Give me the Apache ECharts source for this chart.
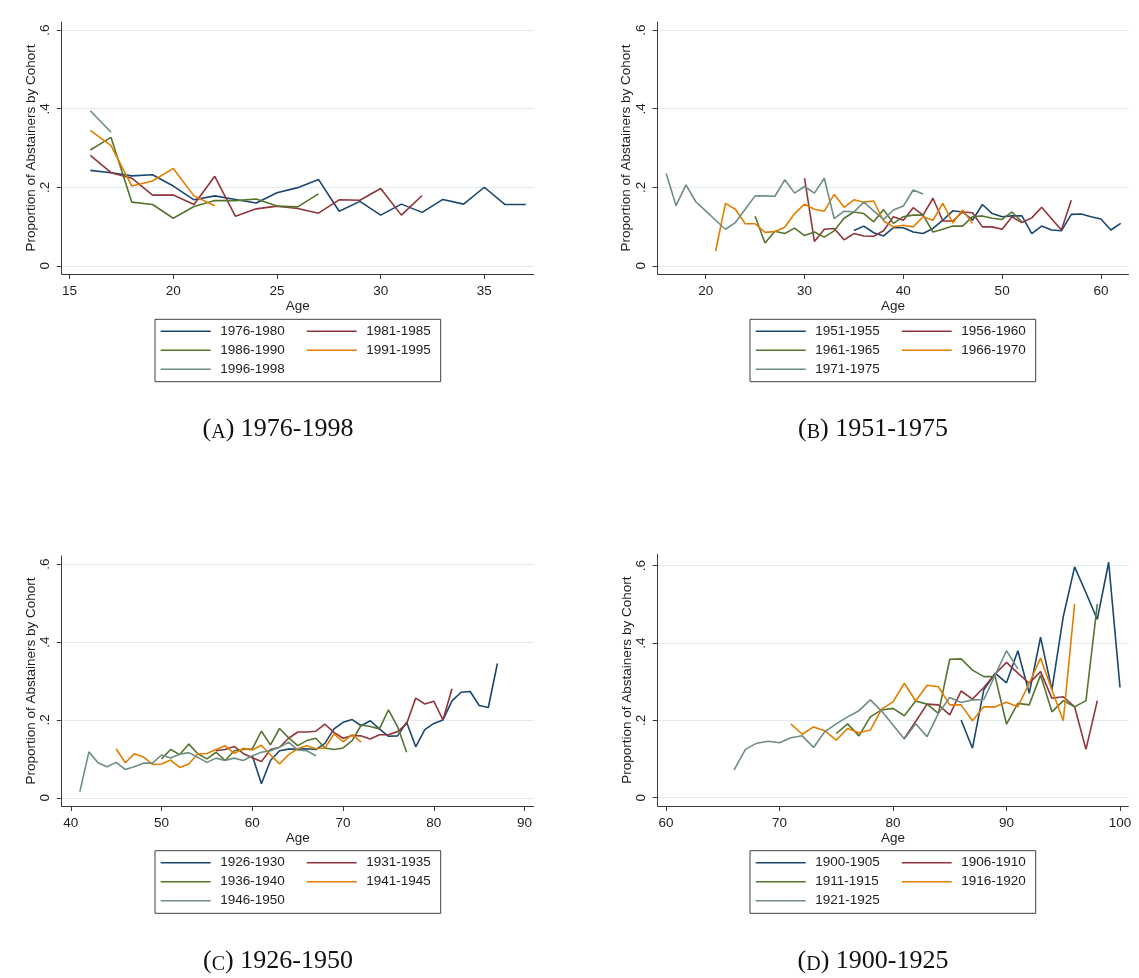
<!DOCTYPE html>
<html>
<head>
<meta charset="utf-8">
<style>
  html, body { margin: 0; padding: 0; background: #ffffff; }
  #chart { width: 1139px; height: 978px; }
</style>
<script src="https://cdn.jsdelivr.net/npm/echarts@6/dist/echarts.min.js"></script>
</head>
<body>
<div id="chart"></div>
<script>
// ---------------- DATA ----------------
// Panel A: cohorts 1976-1998 (values start at the given age, one value per year of age)
const A_NAMES = ['1976-1980', '1981-1985', '1986-1990', '1991-1995', '1996-1998'];
const A_START = [16, 16, 16, 16, 16];
const A_1976_1980 = [0.243,0.237,0.229,0.232,0.203,0.168,0.178,0.169,0.160,0.186,0.199,0.220,0.139,0.164,0.129,0.157,0.136,0.169,0.157,0.200,0.156,0.156];
const A_1981_1985 = [0.281,0.237,0.223,0.180,0.180,0.156,0.228,0.126,0.145,0.152,0.146,0.134,0.168,0.167,0.197,0.129,0.179];
const A_1986_1990 = [0.295,0.327,0.162,0.156,0.121,0.151,0.166,0.166,0.170,0.152,0.150,0.183];
const A_1991_1995 = [0.345,0.306,0.203,0.216,0.248,0.178,0.153];
const A_1996_1998 = [0.395,0.340];
const A_XTICKS = [15, 20, 25, 30, 35];

// Panel B: cohorts 1951-1975
const B_NAMES = ['1951-1955', '1956-1960', '1961-1965', '1966-1970', '1971-1975'];
const B_START = [35, 30, 25, 21, 16];
const B_1951_1955 = [0.090,0.101,0.084,0.076,0.097,0.097,0.086,0.082,0.095,0.116,0.140,0.137,0.116,0.156,0.133,0.125,0.127,0.127,0.082,0.101,0.091,0.089,0.131,0.132,0.125,0.119,0.091,0.108];
const B_1956_1960 = [0.223,0.062,0.093,0.095,0.066,0.082,0.076,0.075,0.089,0.125,0.116,0.148,0.129,0.172,0.114,0.114,0.137,0.135,0.099,0.099,0.093,0.125,0.110,0.122,0.149,0.120,0.091,0.167];
const B_1961_1965 = [0.126,0.058,0.088,0.082,0.096,0.077,0.086,0.073,0.089,0.121,0.137,0.133,0.112,0.143,0.108,0.125,0.129,0.129,0.086,0.093,0.101,0.101,0.125,0.127,0.121,0.118,0.137,0.112];
const B_1966_1970 = [0.037,0.159,0.144,0.107,0.107,0.085,0.087,0.098,0.133,0.157,0.144,0.139,0.182,0.149,0.168,0.162,0.165,0.114,0.099,0.103,0.099,0.125,0.116,0.159,0.109,0.142,0.108];
const B_1971_1975 = [0.235,0.153,0.206,0.163,0.140,0.116,0.093,0.110,0.144,0.178,0.178,0.177,0.219,0.185,0.202,0.185,0.223,0.120,0.139,0.137,0.162,0.140,0.118,0.142,0.152,0.193,0.183];
const B_XTICKS = [20, 30, 40, 50, 60];

// Panel C: cohorts 1926-1950
const C_NAMES = ['1926-1930', '1931-1935', '1936-1940', '1941-1945', '1946-1950'];
const C_START = [60, 56, 50, 45, 41];
const C_1926_1930 = [0.108,0.036,0.096,0.121,0.125,0.125,0.126,0.124,0.140,0.177,0.194,0.201,0.185,0.198,0.177,0.158,0.159,0.194,0.131,0.175,0.191,0.200,0.249,0.271,0.273,0.237,0.232,0.345];
const C_1931_1935 = [0.121,0.124,0.132,0.114,0.103,0.093,0.124,0.130,0.153,0.169,0.169,0.171,0.189,0.168,0.153,0.160,0.159,0.151,0.162,0.162,0.170,0.190,0.256,0.241,0.248,0.200,0.280];
const C_1936_1940 = [0.100,0.124,0.111,0.138,0.113,0.100,0.117,0.096,0.121,0.124,0.126,0.171,0.136,0.178,0.154,0.134,0.147,0.153,0.128,0.124,0.128,0.147,0.187,0.183,0.177,0.226,0.183,0.117];
const C_1941_1945 = [0.126,0.090,0.113,0.105,0.086,0.087,0.097,0.078,0.087,0.113,0.114,0.124,0.134,0.114,0.127,0.123,0.135,0.110,0.087,0.111,0.126,0.134,0.126,0.128,0.164,0.144,0.162,0.143];
const C_1946_1950 = [0.016,0.118,0.090,0.080,0.091,0.073,0.080,0.089,0.089,0.110,0.102,0.112,0.116,0.104,0.091,0.102,0.096,0.102,0.096,0.108,0.117,0.121,0.130,0.143,0.123,0.121,0.108];
const C_XTICKS = [40, 50, 60, 70, 80, 90];

// Panel D: cohorts 1900-1925
const D_NAMES = ['1900-1905', '1906-1910', '1911-1915', '1916-1920', '1921-1925'];
const D_START = [86, 81, 75, 71, 66];
const D_1900_1905 = [0.201,0.128,0.279,0.322,0.297,0.380,0.270,0.415,0.279,0.468,0.597,0.530,0.461,0.609,0.285];
const D_1906_1910 = [0.154,0.197,0.242,0.240,0.214,0.276,0.255,0.285,0.320,0.350,0.322,0.296,0.326,0.257,0.261,0.235,0.125,0.251];
const D_1911_1915 = [0.166,0.191,0.160,0.209,0.227,0.231,0.212,0.250,0.242,0.218,0.358,0.359,0.330,0.313,0.313,0.190,0.244,0.240,0.317,0.222,0.251,0.235,0.251,0.501];
const D_1916_1920 = [0.191,0.164,0.183,0.173,0.149,0.179,0.168,0.175,0.229,0.248,0.296,0.250,0.291,0.287,0.240,0.240,0.199,0.235,0.235,0.247,0.235,0.296,0.361,0.279,0.199,0.501];
const D_1921_1925 = [0.072,0.125,0.141,0.146,0.142,0.155,0.160,0.130,0.171,0.191,0.209,0.225,0.253,0.224,0.188,0.152,0.191,0.158,0.218,0.259,0.246,0.253,0.254,0.317,0.380,0.333];
const D_XTICKS = [60, 70, 80, 90, 100];

const Y_TICKS = [0, 0.2, 0.4, 0.6];
const CAPTIONS = [['A', '1976-1998'], ['B', '1951-1975'], ['C', '1926-1950'], ['D', '1900-1925']];
const Y_TITLE = 'Proportion of Abstainers by Cohort';
const X_TITLE = 'Age';

// ---------------- STYLE / LAYOUT ----------------
const COLORS = ['#1a476f', '#90353b', '#55752f', '#e37e00', '#6e8e84'];
const SANS = 'Liberation Sans, Arial, sans-serif';
const SERIF = 'Liberation Serif, Times New Roman, serif';
const AXIS_COLOR = '#3a3a3a';
const TEXT_COLOR = '#1e1e1e';
const GRID_COLOR = '#e2eaed';

const PANELS = [
  { names: A_NAMES, start: A_START, values: [A_1976_1980, A_1981_1985, A_1986_1990, A_1991_1995, A_1996_1998], xticks: A_XTICKS,
    grid: { left: 61.7, top: 22, width: 472, height: 252 }, xr: [14.62, 37.38], yr: [-0.021, 0.621],
    legend: { left: 160.7, top: 324.3 }, box: [155, 319.3, 285.7, 62.4], cap: [278, 428] },
  { names: B_NAMES, start: B_START, values: [B_1951_1955, B_1956_1960, B_1961_1965, B_1966_1970, B_1971_1975], xticks: B_XTICKS,
    grid: { left: 657.5, top: 22, width: 471, height: 252 }, xr: [15.12, 62.79], yr: [-0.021, 0.621],
    legend: { left: 755.7, top: 324.3 }, box: [750, 319.3, 285.7, 62.4], cap: [873, 428] },
  { names: C_NAMES, start: C_START, values: [C_1926_1930, C_1931_1935, C_1936_1940, C_1941_1945, C_1946_1950], xticks: C_XTICKS,
    grid: { left: 61.7, top: 556, width: 472, height: 250 }, xr: [39.0, 91.0], yr: [-0.021, 0.621],
    legend: { left: 160.7, top: 855.7 }, box: [155, 850.7, 285.7, 62.6], cap: [278, 960] },
  { names: D_NAMES, start: D_START, values: [D_1900_1905, D_1906_1910, D_1911_1915, D_1916_1920, D_1921_1925], xticks: D_XTICKS,
    grid: { left: 657.7, top: 554.3, width: 470.6, height: 251.7 }, xr: [59.27, 100.73], yr: [-0.0215, 0.6295],
    legend: { left: 755.7, top: 855.7 }, box: [750, 850.7, 285.7, 62.6], cap: [873, 960] }
];

function fmtY(v) {
  if (Math.abs(v) < 1e-9) return '0';
  return String(Math.round(v * 10) / 10).replace(/^0\./, '.');
}

const grids = [], xAxes = [], yAxes = [], series = [], legends = [], graphics = [];

PANELS.forEach((p, i) => {
  grids.push(Object.assign({ containLabel: false }, p.grid));
  xAxes.push({
    gridIndex: i, type: 'value', min: p.xr[0], max: p.xr[1],
    axisLine: { show: true, onZero: false, lineStyle: { color: AXIS_COLOR, width: 1 } },
    axisTick: { show: true, length: 5, customValues: p.xticks, lineStyle: { color: AXIS_COLOR, width: 1 } },
    axisLabel: { show: true, customValues: p.xticks, margin: 10, fontSize: 13.5, color: TEXT_COLOR, fontFamily: SANS },
    splitLine: { show: false },
    name: X_TITLE, nameLocation: 'middle', nameGap: 23,
    nameTextStyle: { fontSize: 13.5, color: TEXT_COLOR, fontFamily: SANS }
  });
  yAxes.push({
    gridIndex: i, type: 'value', min: p.yr[0], max: p.yr[1],
    axisLine: { show: true, onZero: false, lineStyle: { color: AXIS_COLOR, width: 1 } },
    axisTick: { show: true, length: 5, customValues: Y_TICKS, lineStyle: { color: AXIS_COLOR, width: 1 } },
    axisLabel: { show: true, customValues: Y_TICKS, rotate: 90, margin: 9, fontSize: 13.5, color: TEXT_COLOR, fontFamily: SANS, formatter: fmtY },
    splitLine: { show: true, lineStyle: { color: GRID_COLOR, width: 1 } },
    name: Y_TITLE, nameLocation: 'middle', nameGap: 23,
    nameTextStyle: { fontSize: 13.5, color: TEXT_COLOR, fontFamily: SANS }
  });
  p.names.forEach((nm, k) => {
    const vals = p.values[k];
    series.push({
      type: 'line', name: nm, xAxisIndex: i, yAxisIndex: i,
      data: vals.map((v, j) => [p.start[k] + j, v]),
      symbol: 'none', showSymbol: false, silent: true,
      lineStyle: { color: COLORS[k], width: 1.6 },
      itemStyle: { color: COLORS[k] },
      emphasis: { disabled: true }
    });
  });
  legends.push({
    data: p.names, left: p.legend.left, top: p.legend.top, width: 290, padding: 0,
    orient: 'horizontal', icon: 'rect', itemWidth: 50, itemHeight: 1.4, itemGap: 5,
    selectedMode: false,
    textStyle: { fontFamily: SANS, fontSize: 13.5, color: TEXT_COLOR, width: 81.4, padding: [0, 0, 0, 4.6], lineHeight: 14 }
  });
  graphics.push({
    type: 'rect', silent: true, z: 100,
    shape: { x: p.box[0], y: p.box[1], width: p.box[2], height: p.box[3] },
    style: { fill: null, stroke: '#404040', lineWidth: 1 }
  });
  const cap = CAPTIONS[i];
  graphics.push({
    type: 'text', silent: true, z: 100,
    x: p.cap[0], y: p.cap[1],
    style: {
      text: '{p|(}{s|' + cap[0] + '}{p|) ' + cap[1] + '}',
      align: 'center', verticalAlign: 'middle',
      rich: {
        p: { fontFamily: SERIF, fontSize: 26, fill: '#111', lineHeight: 29, verticalAlign: 'bottom' },
        s: { fontFamily: SERIF, fontSize: 20, fill: '#111', lineHeight: 29, verticalAlign: 'bottom' }
      }
    }
  });
});

const chart = echarts.init(document.getElementById('chart'), null, { renderer: 'canvas' });
chart.setOption({
  backgroundColor: '#ffffff',
  animation: false,
  color: COLORS,
  grid: grids,
  xAxis: xAxes,
  yAxis: yAxes,
  legend: legends,
  series: series,
  graphic: { elements: graphics }
});
</script>
</body>
</html>
